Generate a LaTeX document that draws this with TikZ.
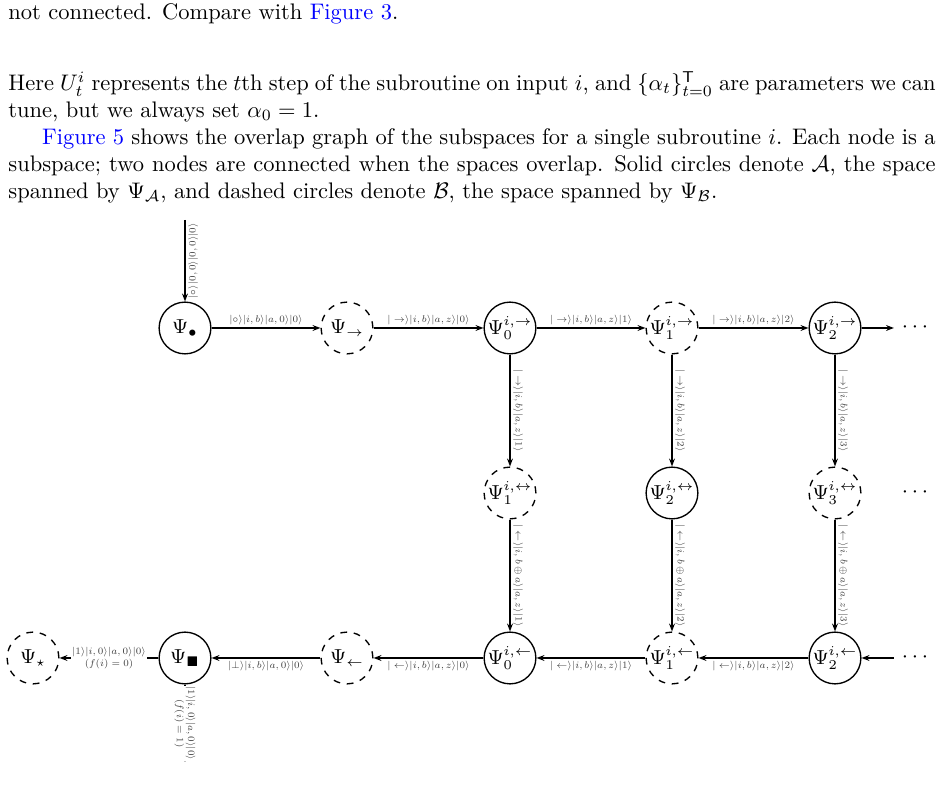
\documentclass[tikz,border=0pt]{standalone}
\usepackage{amssymb}
\usetikzlibrary{arrows.meta}
\begin{document}
\begin{tikzpicture}[x=0.4444pt,y=-0.4444pt,
  st/.style={circle,draw,line width=0.6pt,minimum size=23pt,inner sep=0pt,font=\small},
  ds/.style={st,dashed},
  ar/.style={-{Stealth[length=3.5pt,width=2.6pt]},line width=0.6pt},
  lb/.style={font=\scriptsize,scale=0.62,text=black!75,inner sep=2pt}]
\useasboundingbox (0,0) rectangle (942,787);
\node[anchor=base west,inner sep=0] at (8,20) {not connected. Compare with \textcolor{blue}{Figure 3}.};
\node[anchor=north west,inner sep=0,text width=412pt,align=justify] at (8,71) {Here $U_t^i$ represents the $t$th step of the subroutine on input $i$, and $\{\alpha_t\}_{t=0}^{\mathsf{T}}$ are parameters we can\linebreak tune, but we always set $\alpha_0=1$.\par
\hspace*{15pt}\textcolor{blue}{Figure 5} shows the overlap graph of the subspaces for a single subroutine $i$. Each node is a\linebreak subspace; two nodes are connected when the spaces overlap. Solid circles denote $\mathcal{A}$, the space\linebreak spanned by $\Psi_{\mathcal{A}}$, and dashed circles denote $\mathcal{B}$, the space spanned by $\Psi_{\mathcal{B}}$.};
% nodes
\node[st] (dot) at (185,328) {$\Psi_{\bullet}$};
\node[ds] (ra) at (347,328) {$\Psi_{\rightarrow}$};
\node[st] (r0) at (510,328) {$\Psi_0^{i,\rightarrow}$};
\node[ds] (r1) at (672,328) {$\Psi_1^{i,\rightarrow}$};
\node[st] (r2) at (835,328) {$\Psi_2^{i,\rightarrow}$};
\node (rd) at (915,328) {$\cdots$};
\node[ds] (m1) at (510,493) {$\Psi_1^{i,\leftrightarrow}$};
\node[st] (m2) at (672,493) {$\Psi_2^{i,\leftrightarrow}$};
\node[ds] (m3) at (835,493) {$\Psi_3^{i,\leftrightarrow}$};
\node (md) at (915,493) {$\cdots$};
\node[ds] (star) at (33,658) {$\Psi_{\star}$};
\node[st] (sq) at (185,658) {$\Psi_{\scriptscriptstyle\blacksquare}$};
\node[ds] (la) at (347,658) {$\Psi_{\leftarrow}$};
\node[st] (l0) at (510,658) {$\Psi_0^{i,\leftarrow}$};
\node[ds] (l1) at (672,658) {$\Psi_1^{i,\leftarrow}$};
\node[st] (l2) at (835,658) {$\Psi_2^{i,\leftarrow}$};
\node (ld) at (915,658) {$\cdots$};
\coordinate (top) at (185,220);
\coordinate (bot) at (185,762);
% edges
\draw[ar] (top) -- node[lb,rotate=90,anchor=north] {$|\circ\rangle|0,0\rangle|0,0\rangle|0\rangle$} (dot);
\draw[ar] (dot) -- node[lb,above] {$|\circ\rangle|i,b\rangle|a,0\rangle|0\rangle$} (ra);
\draw[ar] (ra) -- node[lb,above] {$|\rightarrow\rangle|i,b\rangle|a,z\rangle|0\rangle$} (r0);
\draw[ar] (r0) -- node[lb,above] {$|\rightarrow\rangle|i,b\rangle|a,z\rangle|1\rangle$} (r1);
\draw[ar] (r1) -- node[lb,above] {$|\rightarrow\rangle|i,b\rangle|a,z\rangle|2\rangle$} (r2);
\draw[ar] (r2) -- (rd);
\draw[ar] (r0) -- node[lb,rotate=-90,anchor=south] {$|\rightarrow\rangle|i,b\rangle|a,z\rangle|1\rangle$} (m1);
\draw[ar] (r1) -- node[lb,rotate=-90,anchor=south] {$|\rightarrow\rangle|i,b\rangle|a,z\rangle|2\rangle$} (m2);
\draw[ar] (r2) -- node[lb,rotate=-90,anchor=south] {$|\rightarrow\rangle|i,b\rangle|a,z\rangle|3\rangle$} (m3);
\draw[ar] (m1) -- node[lb,rotate=-90,anchor=south] {$|\leftarrow\rangle|i,b\oplus a\rangle|a,z\rangle|1\rangle$} (l0);
\draw[ar] (m2) -- node[lb,rotate=-90,anchor=south] {$|\leftarrow\rangle|i,b\oplus a\rangle|a,z\rangle|2\rangle$} (l1);
\draw[ar] (m3) -- node[lb,rotate=-90,anchor=south] {$|\leftarrow\rangle|i,b\oplus a\rangle|a,z\rangle|3\rangle$} (l2);
\draw[ar] (ld) -- (l2);
\draw[ar] (l2) -- node[lb,below] {$|\leftarrow\rangle|i,b\rangle|a,z\rangle|2\rangle$} (l1);
\draw[ar] (l1) -- node[lb,below] {$|\leftarrow\rangle|i,b\rangle|a,z\rangle|1\rangle$} (l0);
\draw[ar] (l0) -- node[lb,below] {$|\leftarrow\rangle|i,b\rangle|a,z\rangle|0\rangle$} (la);
\draw[ar] (la) -- node[lb,below] {$|\bot\rangle|i,b\rangle|a,0\rangle|0\rangle$} (sq);
\draw[ar] (sq) -- node[lb,fill=white,align=center,inner sep=0.5pt] {$|1\rangle|i,0\rangle|a,0\rangle|0\rangle$\\$(f(i)=0)$} (star);
\draw[ar] (sq) -- node[lb,fill=white,align=center,rotate=-90,inner sep=0.5pt] {$|1\rangle|i,0\rangle|a,0\rangle|0\rangle$\\$(f(i)=1)$} (bot);
\end{tikzpicture}
\end{document}
